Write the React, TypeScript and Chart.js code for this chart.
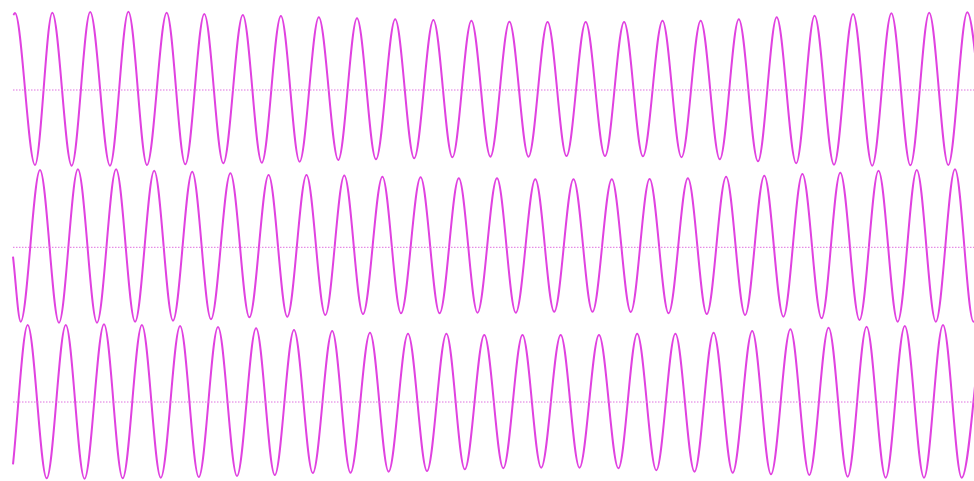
import React, { useEffect, useRef } from "react";
import { Chart, registerables } from "chart.js";

Chart.register(...registerables);

// Sample index along the capture (x) and amplitude in counts (y)
const channel1: [number, number][] = [
  [0.3, 75], [2, 77], [22, -75], [39.3, 77.3], [58.7, -75.7], [77.2, 78], [97, -75.7],
  [115.4, 78.3], [134, -75], [153.7, 77.3], [172.3, -74.3], [191.3, 76], [210.3, -73.3],
  [229.8, 75], [248.8, -72.7], [267.9, 74], [286.6, -71.7], [305.8, 72.7], [325.3, -70],
  [344, 71.7], [363, -69.3], [382.2, 70.7], [401.2, -68.3], [420.4, 70], [439.4, -67.3],
  [458.4, 69.3], [477.4, -66.7], [496.4, 68.3], [515.5, -66.7], [534.6, 68], [553.5, -66],
  [572.7, 68], [592, -66], [611.1, 68], [629.9, -66.3], [649.5, 69.3], [668.5, -67.3],
  [687.7, 69.3], [706.8, -69.3], [725.8, 70.7], [745, -71.3], [763.7, 72.7], [783.2, -73.3],
  [801.6, 74.3], [821, -74.7], [840.1, 76], [859.2, -75.7], [878.4, 76.7], [897.4, -75.3],
  [916.2, 77.3], [935.3, -75], [954.3, 77.7], [973.3, -75],
];

const channel2: [number, number][] = [
  [0, -9.4], [7.7, -74.4], [27, 77.3], [46, -75.4], [64.9, 78], [84, -75.4], [103.1, 78],
  [122.1, -74.4], [141.2, 76.6], [160, -73.4], [179.2, 75.6], [198, -72], [217.4, 74],
  [236.4, -70], [255.6, 72.3], [274.3, -69.4], [293.5, 72.3], [312.3, -67.7], [331.3, 71.8],
  [350, -66.7], [369.4, 70.6], [388, -66], [407.6, 70], [426.6, -66], [445.8, 69],
  [464.5, -65.4], [484, 69], [502.8, -65.4], [522.3, 68], [541.2, -64.4], [560.5, 68],
  [579.5, -64.4], [598.8, 68], [617.8, -64.7], [636.6, 68.3], [655.6, -66], [674.9, 69],
  [693.8, -66.7], [713.1, 70.6], [732.1, -67.7], [751.3, 71.6], [770.4, -69.4], [789.4, 73.3],
  [808.6, -71], [827.3, 74.6], [846.5, -72.7], [865.5, 76.6], [884.7, -74.4], [903.8, 77.3],
  [922.8, -74.4], [942, 78], [960.5, -74.4], [980, 78],
];

const channel3: [number, number][] = [
  [0, -62.3], [14.7, 77], [33.7, -76.3], [52.8, 77], [71.5, -76.7], [91, 77.7], [109.7, -76.3],
  [128.9, 77], [147.8, -75.7], [167.1, 76], [185.8, -75], [205, 75], [224, -74], [243.1, 73.7],
  [261.8, -73], [281, 72], [299.8, -71], [319.2, 71], [337.5, -70.7], [357, 69.3],
  [375.6, -69.7], [395, 68.3], [414, -69], [433.4, 68.3], [451.8, -67.3], [471.3, 67],
  [490.3, -66.3], [509.5, 67], [528.2, -65.7], [547.7, 67], [566.5, -65.7], [586, 67],
  [605.4, -66.3], [624.2, 68.3], [643.3, -68.3], [662.4, 68.3], [681.5, -69.7], [700.6, 69.3],
  [719.7, -70.7], [739.2, 71], [758, -72.3], [777.4, 72.7], [796.3, -73], [815.6, 74.3],
  [834.7, -74.7], [853.6, 75.3], [872.7, -75.7], [891.8, 76], [911, -75.7], [930, 77],
  [948.7, -75.7], [968.5, 77],
];

// Sample range of the capture and the baseline level
const sampleRange: [number, number] = [0, 961];
const baseline = 0;

// Visible amplitude window of each channel (min, max)
const channel1Range: [number, number] = [-391, 90];
const channel2Range: [number, number] = [-233.7, 247.3];
const channel3Range: [number, number] = [-79, 402];

const TRACE = "#e042e0";
const BASE = "#e070e0";

export default function App() {
  const ref = useRef<HTMLCanvasElement | null>(null);

  useEffect(() => {
    document.body.style.margin = "0";
    const canvas = ref.current;
    if (!canvas) return;

    const toPts = (arr: [number, number][]) => arr.map(([x, y]) => ({ x, y }));
    const basePts = sampleRange.map((x) => ({ x, y: baseline }));

    const traceStyle = {
      borderColor: TRACE,
      borderWidth: 2,
      pointRadius: 0,
      fill: false,
      cubicInterpolationMode: "monotone" as const,
      clip: false as const,
    };
    const baseStyle = {
      borderColor: BASE,
      borderWidth: 1,
      borderDash: [1.5, 1.5],
      pointRadius: 0,
      fill: false,
      clip: false as const,
    };

    const chart = new Chart(canvas, {
      type: "line",
      data: {
        datasets: [
          { ...baseStyle, data: basePts, yAxisID: "y1" },
          { ...baseStyle, data: basePts, yAxisID: "y2" },
          { ...baseStyle, data: basePts, yAxisID: "y3" },
          { ...traceStyle, data: toPts(channel1), yAxisID: "y1" },
          { ...traceStyle, data: toPts(channel2), yAxisID: "y2" },
          { ...traceStyle, data: toPts(channel3), yAxisID: "y3" },
        ],
      },
      options: {
        animation: false,
        responsive: false,
        events: [],
        layout: { padding: { left: 13, right: 0, top: 0, bottom: 0 } },
        plugins: { legend: { display: false }, tooltip: { enabled: false }, title: { display: false } },
        scales: {
          x: { type: "linear", min: sampleRange[0], max: sampleRange[1], display: false },
          y1: { type: "linear", min: channel1Range[0], max: channel1Range[1], display: false },
          y2: { type: "linear", min: channel2Range[0], max: channel2Range[1], display: false },
          y3: { type: "linear", min: channel3Range[0], max: channel3Range[1], display: false },
        },
      },
    });
    return () => chart.destroy();
  }, []);

  return (
    <div style={{ width: 974, height: 481, background: "#ffffff" }}>
      <canvas ref={ref} width={974} height={481} style={{ display: "block" }} />
    </div>
  );
}
